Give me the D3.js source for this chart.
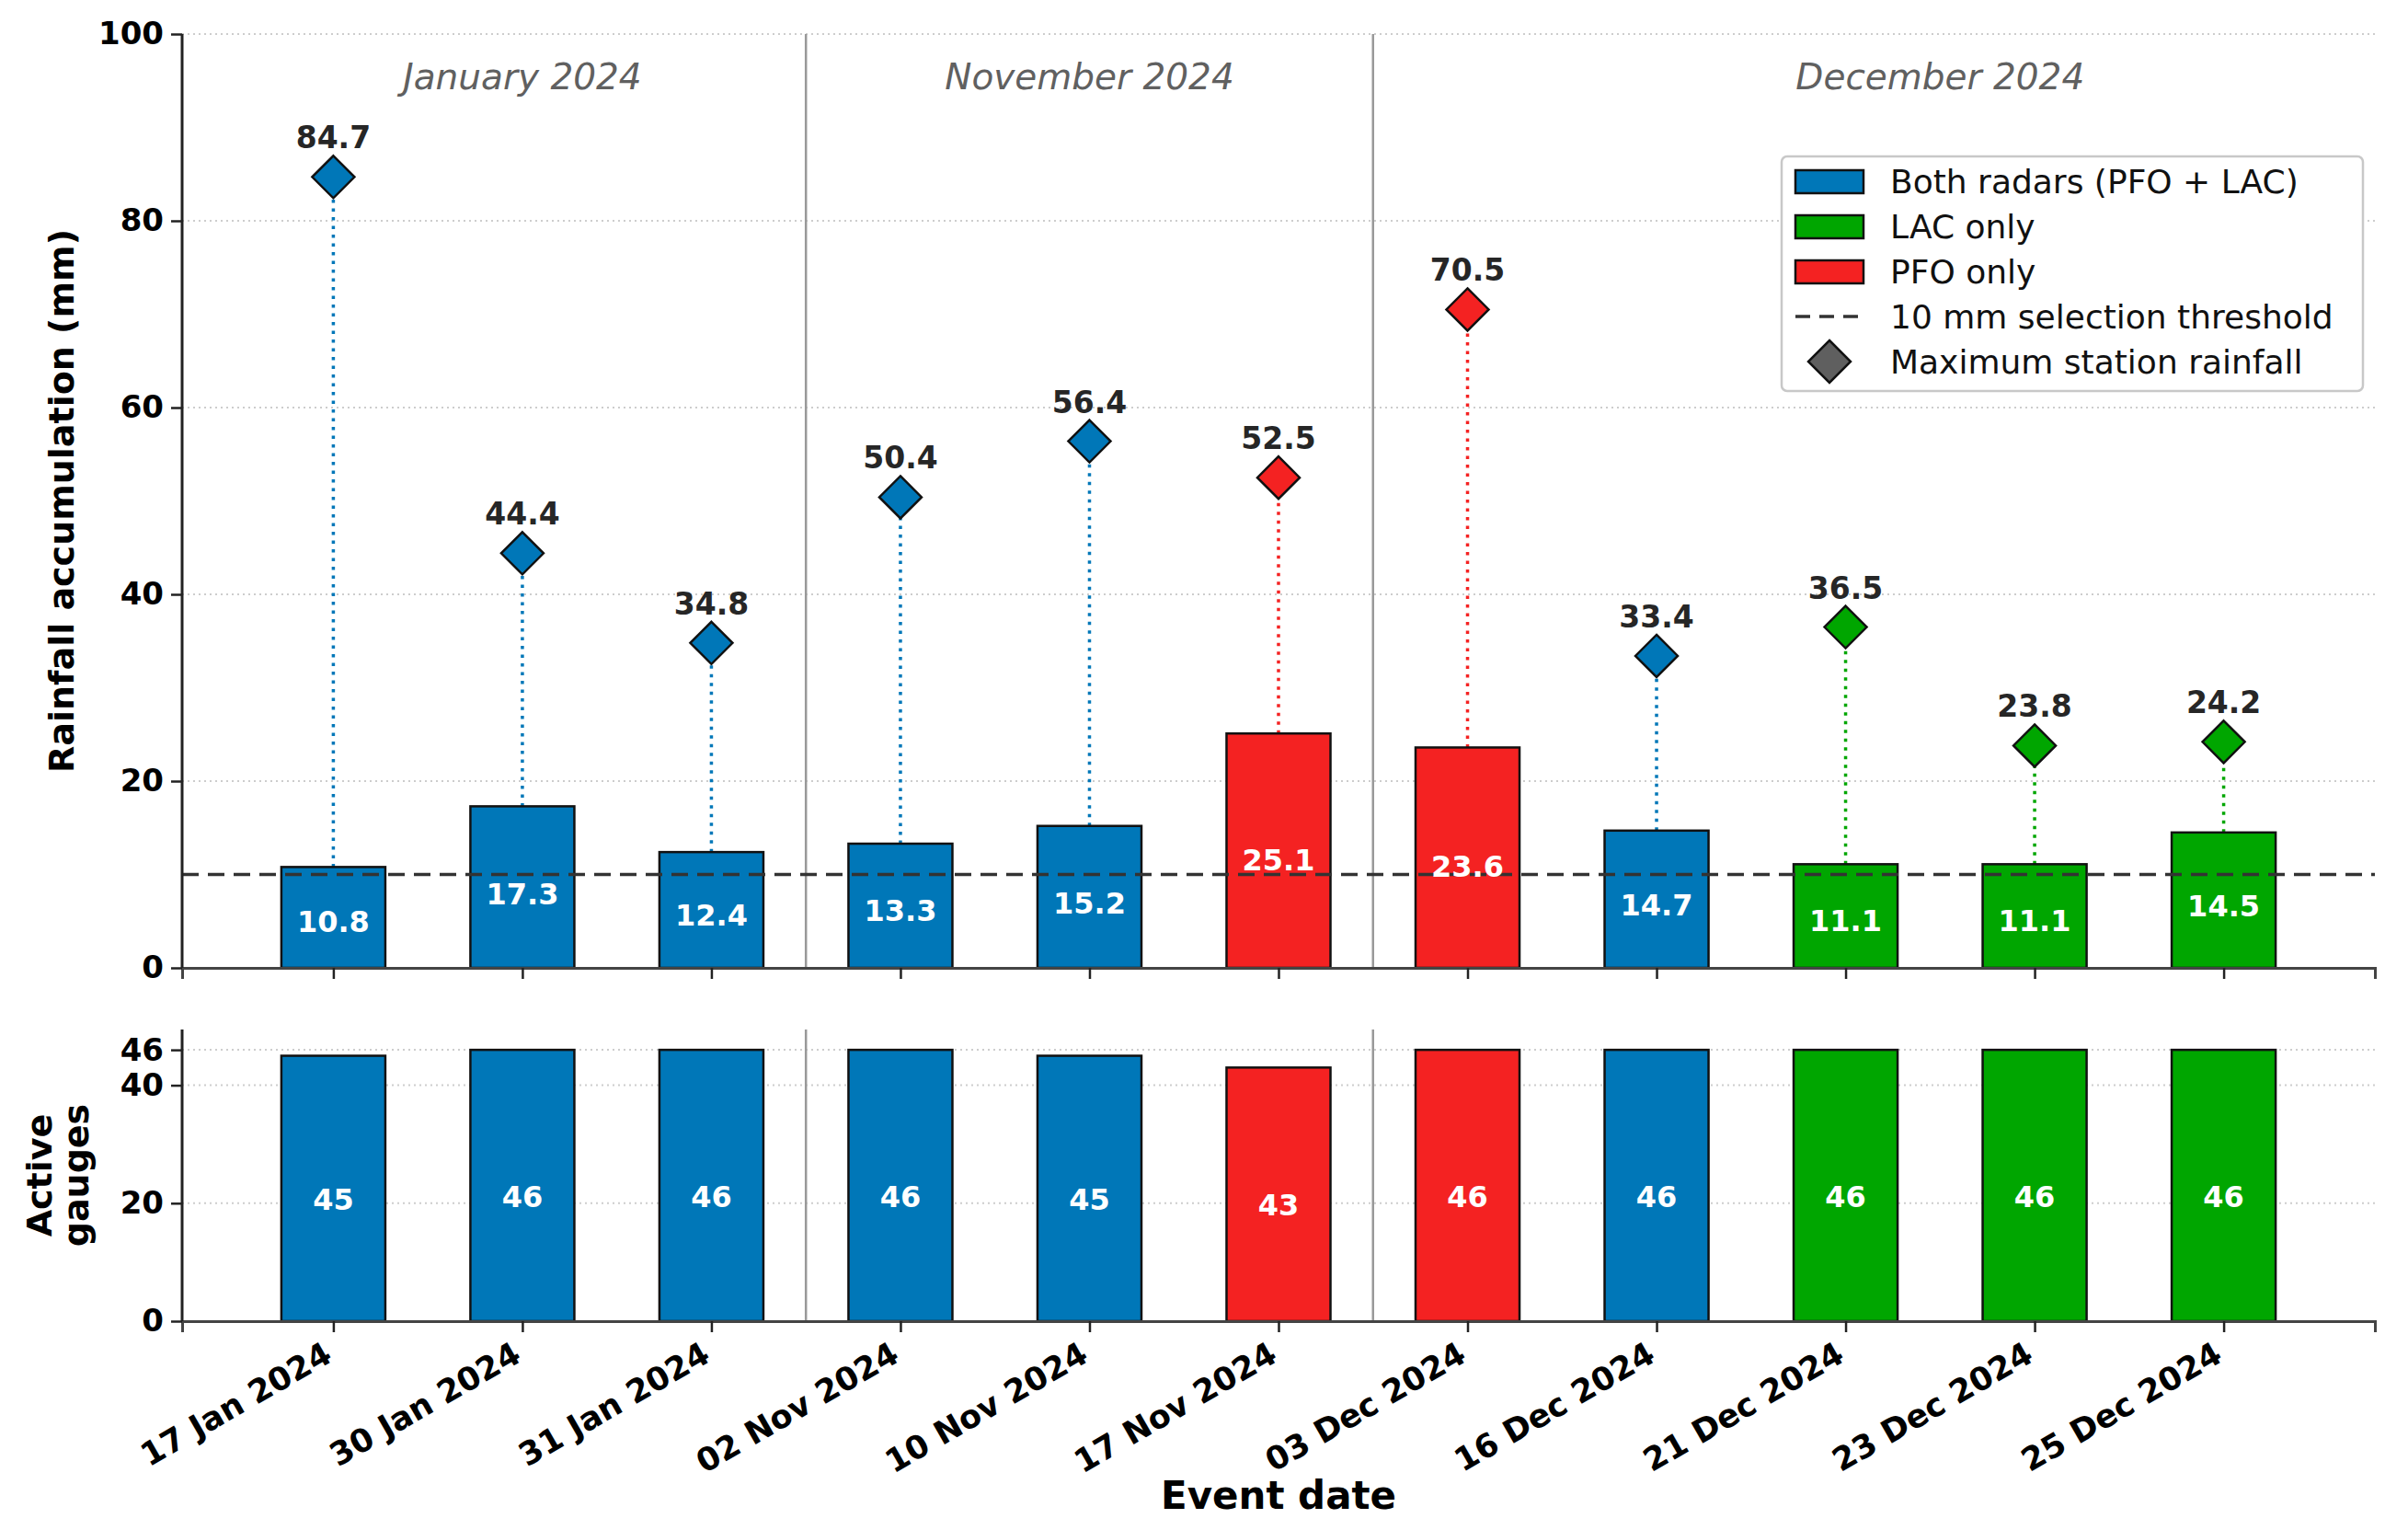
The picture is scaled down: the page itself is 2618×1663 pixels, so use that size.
<!DOCTYPE html>
<html>
<head>
<meta charset="utf-8">
<script src="https://cdn.jsdelivr.net/npm/d3@7"></script>
<style>
  body { margin: 0; background: #fff; }
  text { font-family: "DejaVu Sans", sans-serif; }
</style>
</head>
<body>
<svg width="2618" height="1663"></svg>
<script>
// event data
var dates = ["17 Jan 2024", "30 Jan 2024", "31 Jan 2024", "02 Nov 2024", "10 Nov 2024", "17 Nov 2024",
             "03 Dec 2024", "16 Dec 2024", "21 Dec 2024", "23 Dec 2024", "25 Dec 2024"];
var rainfall = [10.8, 17.3, 12.4, 13.3, 15.2, 25.1, 23.6, 14.7, 11.1, 11.1, 14.5];
var maxStation = [84.7, 44.4, 34.8, 50.4, 56.4, 52.5, 70.5, 33.4, 36.5, 23.8, 24.2];
var gauges = [45, 46, 46, 46, 45, 43, 46, 46, 46, 46, 46];
var radar = ["both", "both", "both", "both", "both", "pfo", "pfo", "both", "lac", "lac", "lac"];
var months = ["January 2024", "November 2024", "December 2024"];
var monthPos = [1, 4, 8.5];
var monthBreaks = [2.5, 5.5];
var rainTicks = [0, 20, 40, 60, 80, 100];
var gaugeTicks = [0, 20, 40, 46];
var threshold = 10;

var colors = {both: "#0077b8", lac: "#00a600", pfo: "#f42222"};
var legendItems = [
    {kind: "bar", color: colors.both, label: "Both radars (PFO + LAC)"},
    {kind: "bar", color: colors.lac, label: "LAC only"},
    {kind: "bar", color: colors.pfo, label: "PFO only"},
    {kind: "dash", label: "10 mm selection threshold"},
    {kind: "diamond", color: "#5f5f5f", label: "Maximum station rainfall"}
];

var svg = d3.select("svg");
var left = 198, right = 2582;
var topY0 = 37, topY1 = 1052;
var botY0 = 1119, botY1 = 1436;
var barW = 0.55;
var labelFrac = 0.46;   // where value labels sit inside bars

var x = d3.scaleLinear().domain([-0.8, dates.length - 0.2]).range([left, right]);
var yTop = d3.scaleLinear().domain([0, 100]).range([topY1, topY0]);
var yBot = d3.scaleLinear().domain([0, 49.45]).range([botY1, botY0]);
var idx = d3.range(dates.length);

function diamond(s) {
    return "M0," + (-s) + "L" + s + ",0L0," + s + "L" + (-s) + ",0Z";
}

function panel(y, ticks, y0, y1) {
    var g = svg.append("g");
    // grid
    g.selectAll("line.grid").data(ticks).enter().append("line")
        .attr("x1", left).attr("x2", right)
        .attr("y1", function (d) { return y(d); })
        .attr("y2", function (d) { return y(d); })
        .attr("stroke", "#cdcdcd").attr("stroke-width", 2)
        .attr("stroke-dasharray", "2,4");
    // month separators
    g.selectAll("line.sep").data(monthBreaks).enter().append("line")
        .attr("x1", function (d) { return x(d); })
        .attr("x2", function (d) { return x(d); })
        .attr("y1", y0).attr("y2", y1)
        .attr("stroke", "#999").attr("stroke-width", 2.5);
    return g;
}

function styleAxis(g) {
    g.selectAll(".domain").attr("stroke", "#222").attr("stroke-width", 3);
    g.selectAll(".tick line").attr("stroke", "#222").attr("stroke-width", 2.5);
    g.selectAll(".tick text").attr("font-size", 34).attr("font-weight", "bold")
        .attr("font-family", "DejaVu Sans").attr("fill", "#000");
}

// ---------- top panel ----------
var gTop = panel(yTop, rainTicks.slice(1), topY0, topY1);

svg.selectAll("text.month").data(months).enter().append("text")
    .attr("x", function (d, i) { return x(monthPos[i]); })
    .attr("y", 97)
    .attr("text-anchor", "middle")
    .attr("font-size", 39).attr("font-style", "italic")
    .attr("fill", "#606060")
    .text(function (d) { return d; });

// dotted stems
svg.selectAll("line.stem").data(idx).enter().append("line")
    .attr("x1", function (i) { return x(i); })
    .attr("x2", function (i) { return x(i); })
    .attr("y1", function (i) { return yTop(rainfall[i]); })
    .attr("y2", function (i) { return yTop(maxStation[i]); })
    .attr("stroke", function (i) { return colors[radar[i]]; })
    .attr("stroke-width", 3.5)
    .attr("stroke-dasharray", "3.5,6");

svg.selectAll("rect.rain").data(idx).enter().append("rect")
    .attr("x", function (i) { return x(i - barW / 2); })
    .attr("width", x(barW) - x(0))
    .attr("y", function (i) { return yTop(rainfall[i]); })
    .attr("height", function (i) { return yTop(0) - yTop(rainfall[i]); })
    .attr("fill", function (i) { return colors[radar[i]]; })
    .attr("stroke", "#111").attr("stroke-width", 2.5);

// threshold
svg.append("line")
    .attr("x1", left).attr("x2", right)
    .attr("y1", yTop(threshold)).attr("y2", yTop(threshold))
    .attr("stroke", "#333").attr("stroke-width", 3.5)
    .attr("stroke-dasharray", "18,10");

svg.selectAll("text.rainlab").data(idx).enter().append("text")
    .attr("x", function (i) { return x(i); })
    .attr("y", function (i) { return yTop(rainfall[i] * labelFrac); })
    .attr("dy", "0.36em")
    .attr("text-anchor", "middle")
    .attr("font-size", 32).attr("font-weight", "bold").attr("fill", "#fff")
    .text(function (i) { return rainfall[i].toFixed(1); });

svg.selectAll("path.max").data(idx).enter().append("path")
    .attr("transform", function (i) { return "translate(" + x(i) + "," + yTop(maxStation[i]) + ")"; })
    .attr("d", diamond(23))
    .attr("fill", function (i) { return colors[radar[i]]; })
    .attr("stroke", "#111").attr("stroke-width", 2.5);

svg.selectAll("text.maxlab").data(idx).enter().append("text")
    .attr("x", function (i) { return x(i); })
    .attr("y", function (i) { return yTop(maxStation[i]) - 31; })
    .attr("text-anchor", "middle")
    .attr("font-size", 33).attr("font-weight", "bold").attr("fill", "#262626")
    .text(function (i) { return maxStation[i].toFixed(1); });

var axTopX = svg.append("g").attr("transform", "translate(0," + topY1 + ")")
    .call(d3.axisBottom(x).tickValues(idx).tickFormat("").tickSizeOuter(0).tickSize(12));
var axTopY = svg.append("g").attr("transform", "translate(" + left + ",0)")
    .call(d3.axisLeft(yTop).tickValues(rainTicks).tickSizeOuter(0).tickSize(12).tickPadding(8));
styleAxis(axTopX); styleAxis(axTopY);
axTopX.select(".domain").attr("stroke", "#444");

svg.append("text")
    .attr("transform", "translate(80," + ((topY0 + topY1) / 2) + ") rotate(-90)")
    .attr("text-anchor", "middle")
    .attr("font-size", 38).attr("font-weight", "bold")
    .text("Rainfall accumulation (mm)");

// legend
var lg = svg.append("g").attr("transform", "translate(1937,170)");
lg.append("rect").attr("width", 632).attr("height", 255).attr("rx", 6)
    .attr("fill", "#fff").attr("stroke", "#c8c8c8").attr("stroke-width", 2.5);
var row = lg.selectAll("g.item").data(legendItems).enter().append("g")
    .attr("transform", function (d, i) { return "translate(0," + (27 + i * 49) + ")"; });
row.filter(function (d) { return d.kind == "bar"; }).append("rect")
    .attr("x", 15).attr("y", -12).attr("width", 74).attr("height", 25)
    .attr("fill", function (d) { return d.color; })
    .attr("stroke", "#111").attr("stroke-width", 2.5);
row.filter(function (d) { return d.kind == "dash"; }).append("line")
    .attr("x1", 15).attr("x2", 89).attr("y1", 0).attr("y2", 0)
    .attr("stroke", "#333").attr("stroke-width", 3.5).attr("stroke-dasharray", "16,10");
row.filter(function (d) { return d.kind == "diamond"; }).append("path")
    .attr("transform", "translate(52,0)")
    .attr("d", diamond(23))
    .attr("fill", function (d) { return d.color; })
    .attr("stroke", "#111").attr("stroke-width", 2.5);
row.append("text")
    .attr("x", 118).attr("dy", "0.36em")
    .attr("font-size", 36).attr("fill", "#111")
    .text(function (d) { return d.label; });

// ---------- bottom panel ----------
var gBot = panel(yBot, gaugeTicks.slice(1), botY0, botY1);

svg.selectAll("rect.gauge").data(idx).enter().append("rect")
    .attr("x", function (i) { return x(i - barW / 2); })
    .attr("width", x(barW) - x(0))
    .attr("y", function (i) { return yBot(gauges[i]); })
    .attr("height", function (i) { return yBot(0) - yBot(gauges[i]); })
    .attr("fill", function (i) { return colors[radar[i]]; })
    .attr("stroke", "#111").attr("stroke-width", 2.5);

svg.selectAll("text.gaugelab").data(idx).enter().append("text")
    .attr("x", function (i) { return x(i); })
    .attr("y", function (i) { return yBot(gauges[i] * labelFrac); })
    .attr("dy", "0.36em")
    .attr("text-anchor", "middle")
    .attr("font-size", 32).attr("font-weight", "bold").attr("fill", "#fff")
    .text(function (i) { return gauges[i]; });

var axBotX = svg.append("g").attr("transform", "translate(0," + botY1 + ")")
    .call(d3.axisBottom(x).tickValues(idx).tickFormat(function (i) { return dates[i]; })
        .tickSizeOuter(0).tickSize(12));
var axBotY = svg.append("g").attr("transform", "translate(" + left + ",0)")
    .call(d3.axisLeft(yBot).tickValues(gaugeTicks).tickSizeOuter(0).tickSize(12).tickPadding(8));
styleAxis(axBotX); styleAxis(axBotY);
axBotX.select(".domain").attr("stroke", "#444");
axBotY.select(".domain").attr("d", "M0," + botY0 + "V" + botY1);
axTopY.select(".domain").attr("d", "M0," + topY0 + "V" + topY1);
axBotX.selectAll(".tick text")
    .attr("font-size", 35)
    .attr("text-anchor", "end")
    .attr("dy", "0.35em")
    .attr("transform", "translate(-6,32) rotate(-30)")
    .attr("y", 0).attr("x", 0);

svg.append("text")
    .attr("transform", "translate(64," + ((botY0 + botY1) / 2) + ") rotate(-90)")
    .attr("text-anchor", "middle")
    .attr("font-size", 38).attr("font-weight", "bold")
    .selectAll("tspan").data(["Active", "gauges"]).enter().append("tspan")
    .attr("x", 0).attr("dy", function (d, i) { return i == 0 ? "-0.2em" : "1.05em"; })
    .text(function (d) { return d; });

svg.append("text")
    .attr("x", (left + right) / 2).attr("y", 1640)
    .attr("text-anchor", "middle")
    .attr("font-size", 42).attr("font-weight", "bold")
    .text("Event date");
</script>
</body>
</html>
